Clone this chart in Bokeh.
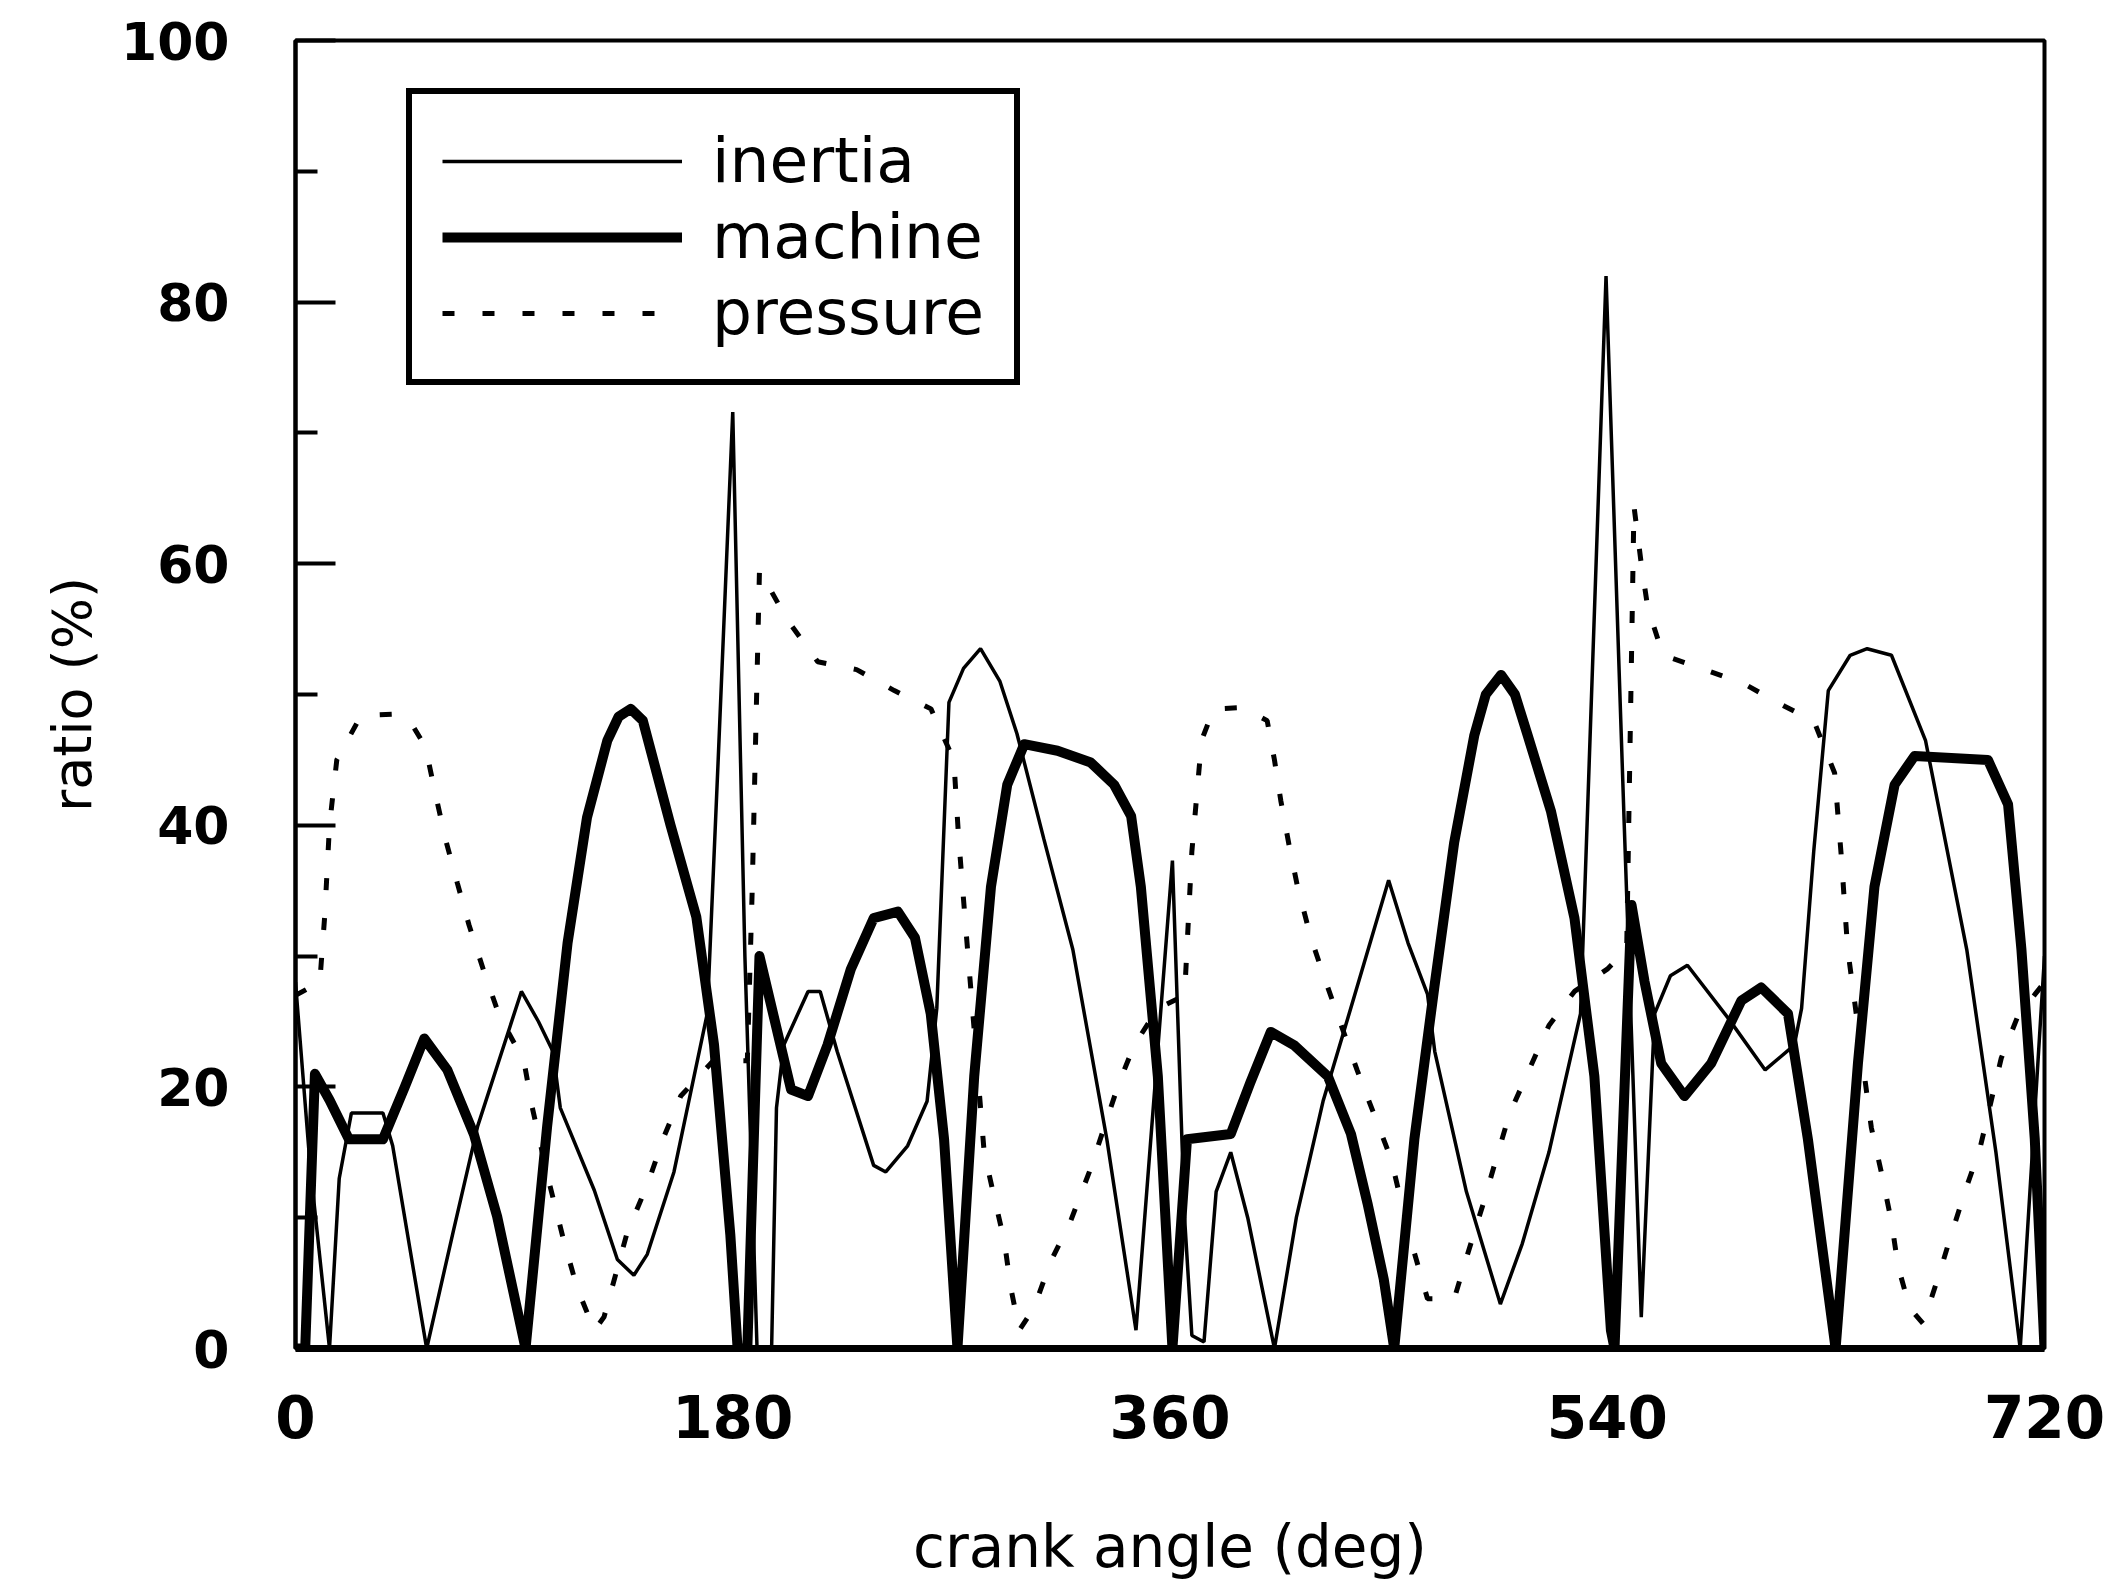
from bokeh.plotting import figure
from bokeh.models import Range1d, FixedTicker, Legend, LegendItem
from bokeh.embed import file_html
from bokeh.resources import INLINE

# ---- data (crank angle in deg, ratio in %) ----
inertia_deg = [0, 6, 14, 18, 23, 36, 40, 54, 65, 75, 93, 100, 106, 109, 123, 132.5, 139.3, 144.8,
               155.8, 169.5, 174, 180, 185, 190, 196, 198, 201, 211, 216, 223, 238, 243, 252, 260,
               264, 269, 275, 282, 290, 297, 308, 320, 334, 346, 361, 366, 369, 374, 379, 385, 392,
               403, 412, 423, 436, 450, 458, 466, 469, 482, 496, 505, 516, 529, 539.5, 547, 554,
               559.5, 566, 573, 590, 605, 617, 620, 625, 631, 640, 647, 657, 671, 688, 700, 710, 720]
inertia_val = [28, 14, 0, 13, 18, 18, 15.5, 0, 9, 17, 27.3, 25, 22.7, 18.4, 12.1, 6.8, 5.6, 7.2,
               13.5, 25.6, 45, 71.6, 30, 0, 0, 18.4, 23.2, 27.3, 27.3, 22.7, 14, 13.5, 15.5, 18.9,
               26, 49.4, 52, 53.5, 51, 47, 39, 30.5, 16, 1.4, 37.3, 10, 1, 0.5, 12, 15, 10,
               0, 10, 18.9, 27, 35.8, 31, 27.1, 22.7, 12, 3.4, 8, 15, 25.6, 82, 40, 2.4,
               25.6, 28.5, 29.3, 25.2, 21.3, 23.2, 26, 38, 50.3, 53, 53.5, 53, 46.5, 30.5, 15, 0, 30]

machine_deg = [0, 4, 8, 14, 22, 36, 45, 53, 62.5, 73.4, 83, 94.7, 103.6, 112, 120, 128.4, 133, 138,
               143, 154.4, 165, 172.3, 179, 182, 186, 191, 204, 211, 219, 228.6, 238, 248, 255, 261.5,
               267, 272.5, 279.4, 286.3, 293, 300, 313.7, 327.4, 337, 344, 348, 355, 361, 367,
               385, 393, 401.5, 411, 425, 434.5, 441.3, 448, 452.3, 460.6, 468.8, 477, 485.3,
               490, 496.3, 502, 507.2, 516.8, 526.5, 534.7, 541.5, 543, 550, 555.3, 562.2, 571.8, 582.8,
               595.2, 603.4, 614.4, 622.6, 634, 643.2, 650, 658.3, 666.5, 696.7, 705, 710.5, 716, 720]
machine_val = [0, 0, 21, 19, 16, 16, 20, 23.7, 21.3, 16.4, 10.1, 0, 17, 31, 40.6, 46.5, 48.3, 48.9,
               48, 40, 33, 23.2, 8.7, 0, 0, 30, 19.8, 19.3, 23.2, 29, 32.9, 33.4, 31.4, 25.6,
               16, 0, 20.8, 35.3, 43.1, 46.2, 45.7, 44.8, 43.1, 40.7, 35.3, 20.8, 0, 16,
               16.4, 20.3, 24.2, 23.2, 20.8, 16.4, 11.1, 5.3, 0, 16, 27.6, 38.7, 46.9,
               50, 51.5, 50, 46.9, 41.1, 32.9, 20.8, 1.4, 0, 33.9, 28.1, 21.8, 19.3, 21.8,
               26.6, 27.6, 25.6, 16, 0, 21.8, 35.3, 43.1, 45.3, 45, 41.6, 30.5, 16, 0]

pressure_deg = [0, 10, 12, 14, 17, 27, 40, 47, 53.5, 57.7, 61.8, 66.6, 71.4, 77.6, 84, 94, 97.5,
                104, 110.5, 116, 123, 127, 136.6, 145, 151.7, 158.6, 172, 186, 188, 191, 202.5,
                215, 231, 246.5, 261.6, 271, 273, 276, 280, 283.5, 287.6, 291.8, 294.5, 298, 304,
                311, 319, 326.8, 339, 345.3, 355, 366, 369, 373, 378, 390, 400, 403, 405.6, 409,
                412.5, 418, 424, 437, 444, 451, 458, 466, 477, 482.5, 489, 493.5, 499.7, 506.6,
                516, 526.5, 540, 548, 551, 554, 556.7, 563, 578.7, 596.5, 613, 625, 633.6, 635,
                636.5, 637.7, 639, 648.7, 652.8, 657, 659.7, 664.5, 670, 676, 681.6, 687.8, 693.3,
                702.2, 709, 720]
pressure_val = [27, 28, 33, 40, 45, 48.4, 48.5, 48, 46, 42.3, 38.9, 35.6, 32.4, 28.8, 25.4, 22, 18.4,
                13, 8.2, 4.6, 1.4, 2.4, 8.9, 12.6, 16.2, 19.3, 22, 22, 35, 59.5, 55.7,
                52.5, 51.9, 50.3, 48.9, 45, 39, 32, 23, 15, 11.6, 8.2, 4.6, 1.4, 3.1,
                6.7, 9.7, 13.5, 20.3, 23.2, 26, 27, 38, 46.5, 48.9, 49, 48, 45, 41.9, 38.5,
                35.3, 31.4, 28.1, 21.3, 17.9, 14.5, 9, 3.8, 3.8, 7.2, 11.1, 14, 17.9, 20.8,
                24.7, 27.3, 29, 30.5, 64.4, 60, 56.6, 53, 52, 50.8, 49.1, 48, 44, 40.7,
                37.3, 33.9, 30.5, 16.9, 13.5, 9.7, 6.3, 3.1, 1.9, 5.3, 8.7, 12.3, 15.2,
                22.2, 25.4, 28]

x_ticks = [0, 180, 360, 540, 720]
y_ticks = [0, 20, 40, 60, 80, 100]
y_minor = [10, 30, 50, 70, 90]
series_names = ["inertia", "machine", "pressure"]

FONT = "DejaVu Sans"

p = figure(width=2110, height=1588, output_backend="svg", toolbar_location=None,
           x_range=Range1d(0, 720), y_range=Range1d(0, 100),
           min_border_left=295, min_border_right=66, min_border_top=40, min_border_bottom=240)
p.background_fill_color = "white"
p.border_fill_color = "white"
p.grid.visible = False
p.outline_line_color = "black"
p.outline_line_width = 4
p.outline_line_alpha = 1

r1 = p.line(inertia_deg, inertia_val, line_color="black", line_width=3.5)
r2 = p.line(machine_deg, machine_val, line_color="black", line_width=10, line_join="round")
r3 = p.line(pressure_deg, pressure_val, line_color="black", line_width=5, line_dash="12 28")

# y axis
ya = p.yaxis[0]
ya.ticker = FixedTicker(ticks=y_ticks, minor_ticks=y_minor)
ya.major_tick_in = 40
ya.major_tick_out = 0
ya.minor_tick_in = 22
ya.minor_tick_out = 0
ya.major_tick_line_width = 4
ya.minor_tick_line_width = 4
ya.axis_line_width = 4
ya.major_label_text_font = FONT
ya.major_label_text_font_style = "bold"
ya.major_label_text_font_size = "52px"
ya.major_label_text_color = "black"
ya.major_label_standoff = 66
ya.axis_label = "ratio (%)"
ya.axis_label_text_font = FONT
ya.axis_label_text_font_style = "normal"
ya.axis_label_text_font_size = "54px"
ya.axis_label_text_color = "black"
ya.axis_label_standoff = 14

# x axis
xa = p.xaxis[0]
xa.ticker = FixedTicker(ticks=x_ticks)
xa.major_tick_in = 0
xa.major_tick_out = 0
xa.minor_tick_in = 0
xa.minor_tick_out = 0
xa.axis_line_width = 7
xa.major_label_text_font = FONT
xa.major_label_text_font_style = "bold"
xa.major_label_text_font_size = "58px"
xa.major_label_text_color = "black"
xa.major_label_standoff = 46
xa.axis_label = "crank angle (deg)"
xa.axis_label_text_font = FONT
xa.axis_label_text_font_style = "normal"
xa.axis_label_text_font_size = "58px"
xa.axis_label_text_color = "black"
xa.axis_label_standoff = 72

legend = Legend(items=[LegendItem(label=series_names[0], renderers=[r1]),
                       LegendItem(label=series_names[1], renderers=[r2]),
                       LegendItem(label=series_names[2], renderers=[r3])],
                location=(111, 963))
legend.border_line_color = "black"
legend.border_line_alpha = 1
legend.border_line_width = 6
legend.background_fill_color = "white"
legend.background_fill_alpha = 1
legend.padding = 30
legend.spacing = 3
legend.margin = 0
legend.label_height = 60
legend.glyph_height = 60
legend.glyph_width = 240
legend.label_standoff = 30
legend.label_text_font = FONT
legend.label_text_font_size = "63px"
legend.label_text_color = "black"
p.add_layout(legend)

open("out.html", "w").write(file_html(p, INLINE))
